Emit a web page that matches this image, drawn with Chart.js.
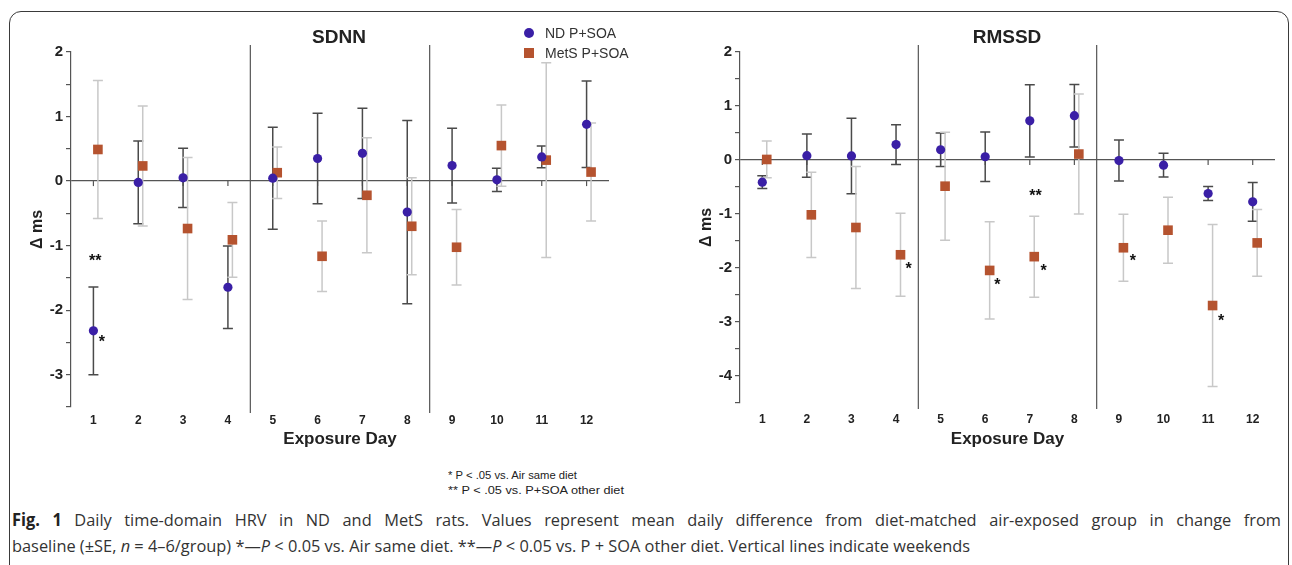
<!DOCTYPE html>
<html>
<head>
<meta charset="utf-8">
<script src="https://cdn.jsdelivr.net/npm/chart.js@4.4.1/dist/chart.umd.min.js"></script>
<style>
  body { margin: 0; width: 1292px; height: 565px; overflow: hidden; position: relative; background: #fff;
         font-family: "Liberation Sans", Arial, sans-serif; color: #222; }
  #frame { position: absolute; left: 9px; top: 11px; width: 1278px; height: 620px;
           border: 1.5px solid #3a3a3a; border-radius: 12px; }
  canvas { position: absolute; }
  .ttl { position: absolute; font-weight: bold; font-size: 19px; transform: translate(-50%, -50%); white-space: nowrap; }
  .leg { position: absolute; font-size: 14px; color: #333; white-space: nowrap; }
  .leg i { position: absolute; left: -22px; top: 50%; }
  .fit { position: absolute; white-space: nowrap; transform-origin: 0 50%; }
  .foot { font-family: "Liberation Sans Narrow", "Liberation Sans", Arial, sans-serif; font-size: 11px; color: #222; }
  .cap { position: absolute; left: 12px; white-space: nowrap; transform-origin: 0 50%;
         font-family: "Open Sans", sans-serif; font-size: 17px; color: #333; }
  .cap b { color: #222; }
</style>
</head>
<body>
<div id="frame"></div>
<canvas id="sdnn" width="600" height="415" style="left:20px;top:40px"></canvas>
<canvas id="rmssd" width="600" height="415" style="left:690px;top:40px"></canvas>

<div class="ttl" style="left:339px;top:37px">SDNN</div>
<div class="ttl" style="left:1007px;top:37px">RMSSD</div>

<div class="leg" style="left:545px;top:25px">
  <i style="width:10px;height:10px;border-radius:50%;background:#3a1fa6;margin-top:-5px;left:-21px"></i>ND P+SOA</div>
<div class="leg" style="left:545px;top:45px">
  <i style="width:10px;height:10px;background:#b5532f;margin-top:-5px;left:-21px"></i>MetS P+SOA</div>

<div class="fit foot" data-w="129" style="left:448px;top:469px">* P &lt; .05 vs. Air same diet</div>
<div class="fit foot" data-w="176" style="left:448px;top:484px">** P &lt; .05 vs. P+SOA other diet</div>

<div class="cap" id="cap1" style="top:508px"><b>Fig. 1</b> Daily time-domain HRV in ND and MetS rats. Values represent mean daily difference from diet-matched air-exposed group in change from</div>
<div class="cap" id="cap2" style="top:534px">baseline (±SE, <i>n</i> = 4–6/group) *—<i>P</i> &lt; 0.05 vs. Air same diet. **—<i>P</i> &lt; 0.05 vs. P + SOA other diet. Vertical lines indicate weekends</div>

<script>
// exposure days and weekend separators
var days = [1, 2, 3, 4, 5, 6, 7, 8, 9, 10, 11, 12];
var weekendAt = [4.5, 8.5];

// SDNN, mean and SE
var sdnnND = [-2.32, -0.02, 0.05, -1.645, 0.045, 0.35, 0.43, -0.48, 0.24, 0.02, 0.375, 0.88];
var sdnnNDse = [0.68, 0.64, 0.46, 0.64, 0.79, 0.70, 0.70, 1.42, 0.58, 0.18, 0.17, 0.67];
var sdnnMetS = [0.49, 0.235, -0.735, -0.91, 0.13, -1.165, -0.22, -0.70, -1.025, 0.55, 0.325, 0.14];
var sdnnMetSse = [1.07, 0.93, 1.10, 0.58, 0.40, 0.545, 0.89, 0.75, 0.585, 0.63, 1.51, 0.76];

// RMSSD, mean and SE
var rmssdND = [-0.41, 0.08, 0.075, 0.285, 0.19, 0.06, 0.725, 0.82, -0.01, -0.095, -0.62, -0.775];
var rmssdNDse = [0.12, 0.40, 0.70, 0.37, 0.31, 0.46, 0.67, 0.58, 0.38, 0.22, 0.13, 0.36];
var rmssdMetS = [0.01, -1.015, -1.25, -1.755, -0.485, -2.045, -1.79, 0.11, -1.625, -1.30, -2.695, -1.535];
var rmssdMetSse = [0.34, 0.79, 1.13, 0.77, 1.00, 0.90, 0.75, 1.11, 0.62, 0.61, 1.50, 0.62];

// significance marks (day position, value, text)
var sdnnMarks = [[1.04, -1.18, '**'], [1.19, -2.44, '*']];
var rmssdMarks = [[4.28, -1.96, '*'], [6.27, -2.25, '*'], [7.13, -0.60, '**'], [7.31, -1.99, '*'],
                  [9.31, -1.80, '*'], [11.29, -2.91, '*']];

var weekendLines = {
  id: 'weekend',
  beforeDatasetsDraw: function (chart) {
    var ctx = chart.ctx, a = chart.chartArea, xs = chart.scales.x, ys = chart.scales.y;
    ctx.save();
    ctx.strokeStyle = '#555';
    ctx.lineWidth = 1.2;
    weekendAt.forEach(function (w) {
      var x = xs.getPixelForValue(w);
      ctx.beginPath();
      ctx.moveTo(x, a.top - 7);
      ctx.lineTo(x, a.bottom + 6);
      ctx.stroke();
    });
    // small ticks under the zero line
    var y0 = ys.getPixelForValue(0);
    days.forEach(function (d) {
      var x = xs.getPixelForValue(d);
      ctx.beginPath();
      ctx.moveTo(x, y0);
      ctx.lineTo(x, y0 + 5);
      ctx.stroke();
    });
    ctx.restore();
  }
};

var errorBars = {
  id: 'errorBars',
  beforeDatasetsDraw: function (chart) {
    var ctx = chart.ctx, ys = chart.scales.y;
    ctx.save();
    chart.data.datasets.forEach(function (ds, di) {
      var meta = chart.getDatasetMeta(di);
      ctx.strokeStyle = ds.barColor;
      ctx.lineWidth = 1.5;
      meta.data.forEach(function (pt, i) {
        var v = ds.data[i].y, se = ds.se[i];
        var hi = ys.getPixelForValue(v + se), lo = ys.getPixelForValue(v - se);
        ctx.beginPath();
        ctx.moveTo(pt.x, hi); ctx.lineTo(pt.x, lo);
        ctx.moveTo(pt.x - 5, hi); ctx.lineTo(pt.x + 5, hi);
        ctx.moveTo(pt.x - 5, lo); ctx.lineTo(pt.x + 5, lo);
        ctx.stroke();
      });
    });
    ctx.restore();
  }
};

var marksPlugin = {
  id: 'marks',
  afterDatasetsDraw: function (chart, args, opts) {
    var ctx = chart.ctx, xs = chart.scales.x, ys = chart.scales.y;
    ctx.save();
    ctx.fillStyle = '#111';
    ctx.font = 'bold 16px "Liberation Sans", Arial, sans-serif';
    ctx.textAlign = 'center';
    ctx.textBaseline = 'middle';
    opts.list.forEach(function (m) {
      ctx.fillText(m[2], xs.getPixelForValue(m[0]), ys.getPixelForValue(m[1]) + 4);
    });
    ctx.restore();
  }
};

function makeChart(id, nd, ndSe, mets, metsSe, yMin, marks, g) {
  return new Chart(document.getElementById(id), {
    type: 'scatter',
    data: {
      datasets: [{
        label: 'ND P+SOA',
        data: days.map(function (d, i) { return { x: d, y: nd[i] }; }),
        se: ndSe,
        barColor: '#4a4a4a',
        pointStyle: 'circle',
        radius: 4.6,
        backgroundColor: '#3a1fa6',
        borderWidth: 0
      }, {
        label: 'MetS P+SOA',
        data: days.map(function (d, i) { return { x: d + 0.1, y: mets[i] }; }),
        se: metsSe,
        barColor: '#c8c8c8',
        pointStyle: 'rect',
        radius: 6.8,
        backgroundColor: '#b5532f',
        borderWidth: 0
      }]
    },
    options: {
      responsive: false,
      animation: false,
      layout: { padding: { top: g.top, right: g.right, left: 0, bottom: 0 } },
      plugins: {
        legend: { display: false },
        tooltip: { enabled: false },
        marks: { list: marks }
      },
      scales: {
        x: {
          type: 'linear', min: 0.5, max: 12.5,
          afterBuildTicks: function (s) { s.ticks = days.map(function (d) { return { value: d }; }); },
          afterFit: function (s) { s.height = g.xh; },
          grid: { display: false, drawTicks: false },
          border: { display: false },
          ticks: { padding: g.xpad, autoSkip: false, maxRotation: 0, color: '#222',
                   font: { size: 12, weight: 'bold', family: '"Liberation Sans", Arial' } },
          title: { display: true, text: 'Exposure Day', color: '#222', padding: { top: 0, bottom: 5 },
                   font: { size: 17, weight: 'bold', family: '"Liberation Sans", Arial' } }
        },
        y: {
          min: yMin, max: 2,
          afterFit: function (s) { s.width = g.yw; },
          ticks: {
            stepSize: 0.5, autoSkip: false, padding: 3, color: '#222',
            font: { size: 15, weight: 'bold', family: '"Liberation Sans", Arial' },
            callback: function (v) { return Number.isInteger(v) ? String(v) : ''; }
          },
          grid: {
            color: function (c) { return c.tick && c.tick.value === 0 ? '#555' : 'rgba(0,0,0,0)'; },
            tickColor: '#555', tickLength: 5, lineWidth: 1.2
          },
          border: { display: true, color: '#555', width: 1.2 },
          title: { display: true, text: 'Δ ms', color: '#222', padding: { top: g.ytp, bottom: 0 },
                   font: { size: 16, weight: 'bold', family: '"Liberation Sans", Arial' } }
        }
      }
    },
    plugins: [weekendLines, errorBars, marksPlugin]
  });
}

makeChart('sdnn', sdnnND, sdnnNDse, sdnnMetS, sdnnMetSse, -3.5, sdnnMarks,
          { top: 11, right: 11, xh: 48, xpad: 6, yw: 51, ytp: 8 });
makeChart('rmssd', rmssdND, rmssdNDse, rmssdMetS, rmssdMetSse, -4.5, rmssdMarks,
          { top: 12, right: 15, xh: 52, xpad: 9, yw: 50, ytp: 7 });

// squeeze footnote lines to the measured widths
document.querySelectorAll('.fit').forEach(function (el) {
  var w = el.getBoundingClientRect().width;
  el.style.transform = 'scaleX(' + (+el.getAttribute('data-w') / w) + ')';
});

// caption: common squeeze from the last line, first line justified to the full width
var cap1 = document.getElementById('cap1'), cap2 = document.getElementById('cap2');
var s = 958 / cap2.getBoundingClientRect().width;
var n1 = cap1.getBoundingClientRect().width;
var gaps = cap1.textContent.split(' ').length - 1;
cap1.style.wordSpacing = Math.max(0, (1269 / s - n1) / gaps) + 'px';
cap1.style.transform = 'scaleX(' + s + ')';
cap2.style.transform = 'scaleX(' + s + ')';
</script>
</body>
</html>
